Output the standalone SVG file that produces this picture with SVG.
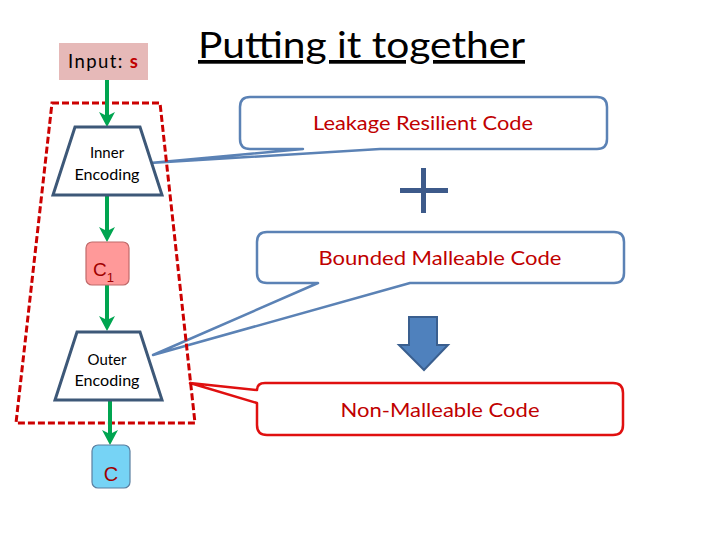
<svg xmlns="http://www.w3.org/2000/svg" width="720" height="540" viewBox="0 0 720 540">
<style>
.lbl{font-family:Lato,"Open Sans","Liberation Sans",sans-serif;fill:#000}
.red{font-family:Lato,"Open Sans","Liberation Sans",sans-serif;fill:#c00000;font-size:19px}
.trap{fill:#fff;stroke:#3d5878;stroke-width:3;stroke-linejoin:miter}
.call{fill:#fff;stroke:#5b82b5;stroke-width:2.5;stroke-linejoin:round}
.flow{stroke:#00a550;stroke-width:4;fill:none}
.cl{font-family:"Liberation Sans",Arial,sans-serif;fill:#a00000}
</style>
<defs>
<marker id="ga" markerUnits="userSpaceOnUse" markerWidth="16" markerHeight="16" viewBox="0 0 16 16" refX="7" refY="8" orient="auto">
<path d="M0,0 L15,8 L0,16 L4,8 Z" fill="#00a550"/>
</marker>
</defs>
<rect width="720" height="540" fill="#fff"/>
<text class="lbl" x="198" y="58" font-size="37" textLength="327" lengthAdjust="spacingAndGlyphs" text-decoration="underline">Putting it together</text>

<g id="callout-leakage">
<path class="call" d="M250,97 H597 Q607,97 607,107 V139 Q607,149 597,149 H380 L150,163 L303,149 H250 Q240,149 240,139 V107 Q240,97 250,97 Z"/>
<text class="red" x="423" y="130" text-anchor="middle" textLength="220" lengthAdjust="spacingAndGlyphs">Leakage Resilient Code</text>
</g>
<g id="callout-bounded">
<path class="call" d="M267,232 H614 Q624,232 624,242 V273 Q624,283 614,283 H410 L153,355 L318,283 H267 Q257,283 257,273 V242 Q257,232 267,232 Z"/>
<text class="red" x="440" y="265" text-anchor="middle" textLength="243" lengthAdjust="spacingAndGlyphs">Bounded Malleable Code</text>
</g>
<g id="callout-nonmalleable">
<path d="M265,383 H613 Q623,383 623,393 V425 Q623,435 613,435 H267 Q257,435 257,425 V403 L190,383 L257,390 Q257,383 265,383 Z" fill="#fff" stroke="#e01010" stroke-width="2.5" stroke-linejoin="round"/>
<text class="red" x="440" y="417" text-anchor="middle" textLength="199" lengthAdjust="spacingAndGlyphs">Non-Malleable Code</text>
</g>
<g id="plus">
<rect x="400" y="188" width="48" height="5" fill="#3d5a8a"/>
<rect x="421" y="168" width="5" height="45" fill="#3d5a8a"/>
</g>
<g id="down-arrow">
<path d="M409,317 H437 V345 H448 L424,370 L399,345 H409 Z" fill="#4f81bd" stroke="#3a5f8f" stroke-width="2"/>
</g>

<g id="boundary">
<path d="M52,103 H160 L195,423 H16 Z" fill="none" stroke="#cc0000" stroke-width="3" stroke-dasharray="7,3"/>
</g>

<g id="connectors">
<line class="flow" x1="107" y1="80" x2="107" y2="119" marker-end="url(#ga)"/>
<line class="flow" x1="107" y1="195" x2="107" y2="234" marker-end="url(#ga)"/>
<line class="flow" x1="107" y1="285" x2="107" y2="323" marker-end="url(#ga)"/>
<line class="flow" x1="110" y1="400" x2="110" y2="437" marker-end="url(#ga)"/>
</g>

<g id="input">
<rect x="59" y="43" width="89" height="37" fill="#e6b9b8"/>
<text class="lbl" x="68" y="68" font-size="18.5" textLength="70" lengthAdjust="spacing">Input: <tspan fill="#c00000" font-weight="bold">s</tspan></text>
</g>
<g id="inner-encoding">
<path class="trap" d="M75,127 H140 L162,195 H53 Z"/>
<text class="lbl" x="107" y="158" font-size="15" text-anchor="middle">Inner</text>
<text class="lbl" x="107" y="180" font-size="15" text-anchor="middle" textLength="65" lengthAdjust="spacingAndGlyphs">Encoding</text>
</g>
<g id="c1">
<rect x="86" y="242" width="43" height="43" rx="6" fill="#ff9999" stroke="#c06a6a" stroke-width="1.2"/>
<text class="cl" x="93" y="276" font-size="19">C<tspan font-size="13" dy="6">1</tspan></text>
</g>
<g id="outer-encoding">
<path class="trap" d="M77,332 H140 L162,400 H55 Z"/>
<text class="lbl" x="107" y="365" font-size="15" text-anchor="middle">Outer</text>
<text class="lbl" x="107" y="386" font-size="15" text-anchor="middle" textLength="65" lengthAdjust="spacingAndGlyphs">Encoding</text>
</g>
<g id="c">
<rect x="92" y="445" width="38" height="43" rx="6" fill="#76d3f5" stroke="#5b7fa0" stroke-width="1.2"/>
<text class="cl" x="111" y="481" font-size="20" text-anchor="middle">C</text>
</g>
</svg>
